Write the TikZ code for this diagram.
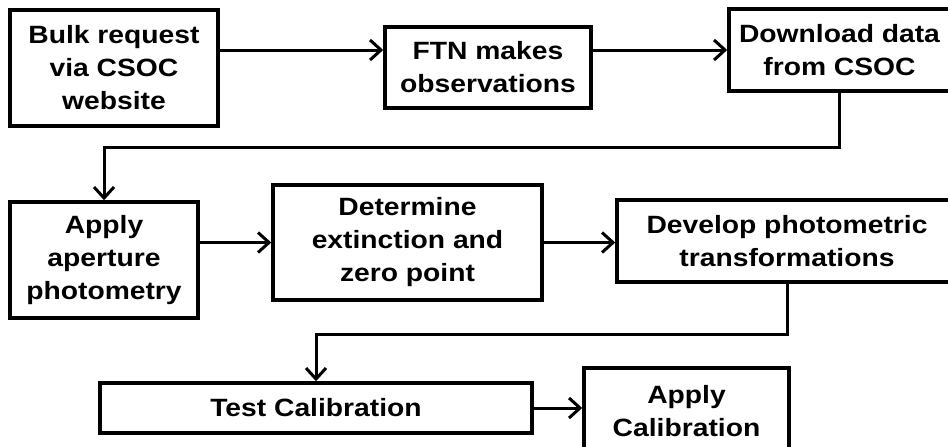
\documentclass[tikz,border=0pt]{standalone}
\usepackage{fontspec}
\setmainfont{Liberation Sans}[FakeStretch=1.13]
\usetikzlibrary{arrows.meta}
\begin{document}
\begin{tikzpicture}[x=1pt, y=-1pt, every node/.style={font=\fontsize{25}{33}\selectfont\bfseries},
  stage/.style={draw, line width=3.5pt, align=center, inner sep=0pt},
  flow/.style={line width=3pt, -{Straight Barb[length=11pt, width=20pt, line width=3pt]}}]
\useasboundingbox (0,0) rectangle (948,447);
\node[stage, minimum width=208, minimum height=116] (bulk) at (114,68) {Bulk request\\via CSOC\\website};
\node[stage, minimum width=206, minimum height=81] (ftn) at (488,67.5) {FTN makes\\observations};
\node[stage, minimum width=221, minimum height=82] (download) at (839.5,50) {Download data\\from CSOC};
\node[stage, minimum width=188, minimum height=116] (aperture) at (104,260) {Apply\\aperture\\photometry};
\node[stage, minimum width=269, minimum height=115] (extinct) at (407.5,242.5) {Determine\\extinction and\\zero point};
\node[stage, minimum width=340, minimum height=82] (transf) at (787,241) {Develop photometric\\transformations};
\node[stage, minimum width=432, minimum height=50] (testcal) at (316,408) {Test Calibration};
\node[stage, minimum width=205, minimum height=86] (applycal) at (686.5,411) {Apply\\Calibration};
\draw[flow] (bulk.east |- download) -- (ftn.west |- download);
\draw[flow] (ftn.east |- download) -- (download.west);
\draw[flow] (download.south) -- ++(0,55) -| (aperture.north);
\draw[flow] (aperture.east |- extinct) -- (extinct.west);
\draw[flow] (extinct.east) -- (transf.west |- extinct);
\draw[flow] (transf.south) -- ++(0,51) -| (testcal.north);
\draw[flow] (testcal.east) -- (applycal.west |- testcal);
\end{tikzpicture}
\end{document}
